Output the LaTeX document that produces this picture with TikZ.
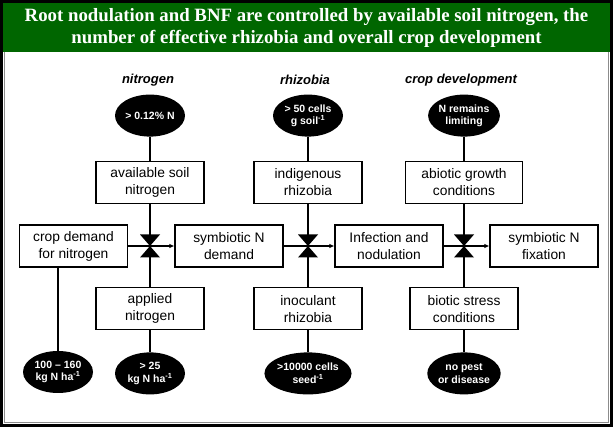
\documentclass[tikz,border=0pt]{standalone}
\usepackage{fontspec}
\setmainfont{Liberation Serif}
\setsansfont{Liberation Sans}
\usetikzlibrary{positioning, arrows.meta, shapes.geometric}
\definecolor{headgreen}{HTML}{006600}
\definecolor{framegray}{HTML}{8C8C8C}

\begin{document}
\begin{tikzpicture}[
  x=1pt, y=-1pt,
  factorBox/.style={draw, line width=1.2pt, fill=white, minimum width=108pt, minimum height=42pt, align=center, inner sep=2pt, font=\fontsize{13.8}{17}\selectfont\sffamily},
  limitNode/.style={ellipse, fill=black, text=white, minimum width=70pt, minimum height=42pt, inner sep=0pt, align=center, font=\fontsize{10.5}{12.5}\selectfont\sffamily\bfseries},
  colTitle/.style={font=\fontsize{13}{15}\selectfont\sffamily\bfseries\itshape},
  headText/.style={text=white, align=center, font=\fontsize{18.8}{22}\selectfont\bfseries},
  link/.style={line width=1.2pt},
  arrow/.style={-{Latex[length=5pt, width=4.5pt]}, line width=1.2pt},
  valve/.style={fill=black}
]
\useasboundingbox (0,0) rectangle (613,427);

% Frame and title band
\fill[headgreen] (3,3) rectangle (610,52);
\draw[framegray, line width=1pt] (4.5,52) -- (4.5,422.5) -- (608.5,422.5) -- (608.5,52);
\draw[line width=3pt] (1.5,1.5) rectangle (611.5,425.5);
\node[headText] (title) at (306.5,28) {Root nodulation and BNF are controlled by available soil nitrogen, the\\number of effective rhizobia and overall crop development};

% Column headings
\node[colTitle] (hNit) at (148,80) {nitrogen};
\node[colTitle] (hRhi) at (305,80) {rhizobia};
\node[colTitle] (hCrop) at (461,80) {crop development};

% Main chain
\node[factorBox] (cropDemand) at (73.5,246) {crop demand\\for nitrogen};
\node[factorBox] (symDemand) at (229,246) {symbiotic N\\demand};
\node[factorBox] (infection) at (389,246) {Infection and\\nodulation};
\node[factorBox] (fixation) at (544,246) {symbiotic N\\fixation};

% Valves
\coordinate (vNit) at (150,246);
\coordinate (vRhi) at (308,246);
\coordinate (vCrop) at (464,246);

% Column 1: nitrogen
\node[factorBox, above=42pt of vNit] (soilN) {available soil\\nitrogen};
\node[limitNode, above=24pt of soilN] (soilLim) {> 0.12\% N};
\node[factorBox, below=41pt of vNit] (appliedN) {applied\\nitrogen};
\node[limitNode, below=22pt of appliedN] (appliedLim) {> 25\\kg N ha\textsuperscript{-1}};
\node[limitNode] (demandLim) at (58,372) {100 – 160\\kg N ha\textsuperscript{-1}};

% Column 2: rhizobia
\node[factorBox, above=42pt of vRhi] (indigRhi) {indigenous\\rhizobia};
\node[limitNode, above=24pt of indigRhi] (indigLim) {> 50 cells\\g soil\textsuperscript{-1}};
\node[factorBox, below=41pt of vRhi] (inocRhi) {inoculant\\rhizobia};
\node[limitNode, below=22pt of inocRhi] (inocLim) {>10000 cells\\seed\textsuperscript{-1}};

% Column 3: crop development
\node[factorBox, above=42pt of vCrop, minimum width=117pt] (abiotic) {abiotic growth\\conditions};
\node[limitNode, above=24pt of abiotic] (abioticLim) {N remains\\limiting};
\node[factorBox, below=41pt of vCrop] (biotic) {biotic stress\\conditions};
\node[limitNode, below=22pt of biotic] (bioticLim) {no pest\\or disease};

% Connectors
\draw[link] (soilLim) -- (soilN);
\draw[link] (soilN) -- (appliedN);
\draw[link] (appliedN) -- (appliedLim);
\draw[link] (demandLim.north |- cropDemand.south) -- (demandLim);

\draw[link] (indigLim) -- (indigRhi);
\draw[link] (indigRhi) -- (inocRhi);
\draw[link] (inocRhi) -- (inocLim);

\draw[link] (abioticLim) -- (abiotic);
\draw[link] (abiotic) -- (biotic);
\draw[link] (biotic) -- (bioticLim);

\draw[arrow] (cropDemand) -- (symDemand);
\draw[arrow] (symDemand) -- (infection);
\draw[arrow] (infection) -- (fixation);

\foreach \v in {vNit, vRhi, vCrop}
  \fill[valve] (\v) -- ++(-10,-11.5) -- ++(20,0) -- cycle
               (\v) -- ++(-10,11.5) -- ++(20,0) -- cycle;

\end{tikzpicture}
\end{document}
